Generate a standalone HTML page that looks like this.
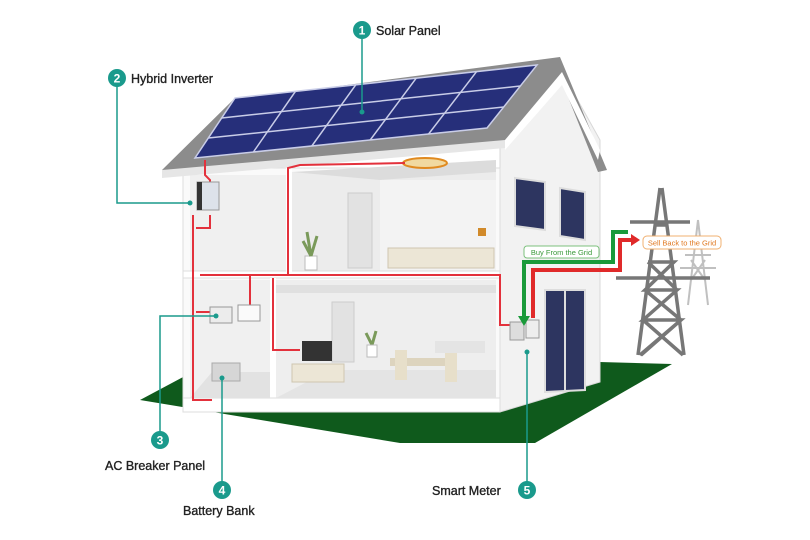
<!DOCTYPE html>
<html><head><meta charset="utf-8"><style>
html,body{margin:0;padding:0;background:#fff}
svg{display:block}
text{font-family:"Liberation Sans",sans-serif}
</style></head><body>
<svg width="810" height="540" viewBox="0 0 810 540" xmlns="http://www.w3.org/2000/svg">
<rect width="810" height="540" fill="#fff"/>
<polygon points="140,400 230,352 672,364 535,443 400,443" fill="#0f5a1c"/>
<polygon points="500,145 562,72 600,140 600,382 500,412" fill="#f2f2f2" stroke="#d8d8d8"/>
<rect x="183" y="168" width="317" height="244" fill="#fafafa" stroke="#ddd"/>
<rect x="190" y="175" width="96" height="96" fill="#f0f0f0"/>
<rect x="292" y="172" width="204" height="100" fill="#ececec"/>
<polygon points="292,172 496,160 496,172 380,180" fill="#dcdcdc"/>
<rect x="380" y="180" width="116" height="92" fill="#f3f3f3"/>
<rect x="190" y="280" width="80" height="118" fill="#f0f0f0"/>
<rect x="276" y="280" width="220" height="118" fill="#eeeeee"/>
<rect x="276" y="285" width="220" height="8" fill="#e0e0e0"/>
<rect x="183" y="271" width="317" height="7" fill="#fff" stroke="#ddd"/>
<rect x="286" y="168" width="6" height="104" fill="#fff"/>
<rect x="270" y="278" width="6" height="134" fill="#fff"/>
<rect x="183" y="398" width="317" height="14" fill="#fff" stroke="#ddd"/>
<polygon points="190,398 270,398 270,372 212,372" fill="#e2e2e2"/>
<polygon points="276,398 496,398 496,370 330,370" fill="#e4e4e4"/>
<rect x="348" y="193" width="24" height="75" fill="#e2e2e2" stroke="#ccc"/>
<rect x="332" y="302" width="22" height="60" fill="#e2e2e2" stroke="#ccc"/>
<rect x="388" y="248" width="106" height="20" fill="#ece6d6" stroke="#cfc6b0"/>
<rect x="478" y="228" width="8" height="8" fill="#d18a2a"/>
<rect x="305" y="256" width="12" height="14" fill="#fff" stroke="#bbb"/>
<path d="M311,256 l-8,-15 M311,256 l6,-20 M311,256 l-4,-24" stroke="#7a9a5a" stroke-width="3"/>
<rect x="302" y="341" width="30" height="20" fill="#333"/>
<rect x="292" y="364" width="52" height="18" fill="#ece6d6" stroke="#cfc6b0"/>
<rect x="390" y="358" width="62" height="8" fill="#ddd4be"/>
<rect x="395" y="350" width="12" height="30" fill="#e7dfca"/>
<rect x="445" y="352" width="12" height="30" fill="#e7dfca"/>
<rect x="435" y="341" width="50" height="12" fill="#e4e4e4"/>
<path d="M372,345 l-6,-12 M372,345 l4,-14" stroke="#7a9a5a" stroke-width="3"/>
<rect x="367" y="345" width="10" height="12" fill="#fff" stroke="#bbb"/>
<ellipse cx="425" cy="163" rx="22" ry="5" fill="#f1d9a0" stroke="#e08a20" stroke-width="2"/>
<polygon points="515,178 545,182 545,230 515,226" fill="#2d3560" stroke="#ddd" stroke-width="2"/>
<polygon points="560,188 585,192 585,240 560,236" fill="#2d3560" stroke="#ddd" stroke-width="2"/>
<polygon points="545,290 585,290 585,390 545,392" fill="#2d3560" stroke="#ddd" stroke-width="2"/>
<line x1="565" y1="290" x2="565" y2="391" stroke="#ddd" stroke-width="2"/>
<polygon points="162,170 233,100 560,57 607,170 598,172 562,82 505,145 162,172" fill="#8c8c8c"/>
<polygon points="162,170 505,140 505,148 162,178" fill="#e6e6e6"/>
<polygon points="505,140 562,72 600,150 598,160 562,85 505,150" fill="#fff"/>
<polygon points="235,98 537,65 487,128 195,158" fill="#262f7a"/>
<g stroke="#c9cde8" stroke-width="1.5" fill="none">
<polygon points="235,98 537,65 487,128 195,158"/>
<line x1="295.4" y1="91.4" x2="253.4" y2="152"/>
<line x1="355.8" y1="84.8" x2="311.8" y2="146"/>
<line x1="416.2" y1="78.2" x2="370.2" y2="140"/>
<line x1="476.6" y1="71.6" x2="428.6" y2="134"/>
<line x1="221.7" y1="118" x2="520.3" y2="86"/>
<line x1="208.3" y1="138" x2="503.7" y2="107"/>
</g>
<g stroke="#e3313c" stroke-width="2" fill="none">
<path d="M205,160 L205,175 L210,180 L210,195"/>
<path d="M193,215 L193,400 L212,400"/>
<path d="M210,215 L210,228 L196,228"/>
<path d="M196,312 L212,312"/>
<path d="M245,275 L250,275 L250,305"/>
<path d="M200,275 L500,275 L500,325 L510,325"/>
<path d="M288,275 L288,168 L300,165 L405,163"/>
<path d="M273,278 L273,350 L300,350"/>
</g>
<rect x="197" y="182" width="22" height="28" fill="#dde2ea" stroke="#999"/>
<rect x="197" y="182" width="5" height="28" fill="#333"/>
<rect x="210" y="307" width="22" height="16" fill="#ececec" stroke="#999"/>
<rect x="238" y="305" width="22" height="16" fill="#fafafa" stroke="#999"/>
<rect x="212" y="363" width="28" height="18" fill="#d6d6d6" stroke="#aaa"/>
<rect x="510" y="322" width="14" height="18" fill="#ddd" stroke="#999"/>
<rect x="526" y="320" width="13" height="18" fill="#eee" stroke="#999"/>
<path d="M628,232 L613,232 L613,262 L524,262 L524,318" stroke="#1a9a3a" stroke-width="4" fill="none"/>
<polygon points="518,316 530,316 524,326" fill="#1a9a3a"/>
<path d="M533,318 L533,270 L620,270 L620,240 L631,240" stroke="#e02a2a" stroke-width="4" fill="none"/>
<polygon points="631,234 640,240 631,246" fill="#e02a2a"/>
<rect x="524" y="246" width="75" height="12" rx="3" fill="#fff" stroke="#7cc07c"/>
<text x="561.5" y="255" font-size="7.5" fill="#3a9a3a" text-anchor="middle">Buy From the Grid</text>
<g stroke="#c0c0c0" stroke-width="2" fill="none">
<path d="M698,220 L688,305 M698,220 L708,305 M691,280 L705,260 M705,280 L691,260"/>
<path d="M680,268 L716,268 M685,255 L711,255"/>
</g>
<g stroke="#777" stroke-width="3.5" fill="none">
<path d="M660,188 L638,355 M662,188 L684,355 M655,225 L667,225 M648,262 L674,262 L645,290 L677,290 L643,320 L681,320 L641,355 M648,262 L677,290 M674,262 L645,290 M643,320 L677,290 M681,320 L645,290 M643,320 L683,355 M681,320 L640,355"/>
<path d="M630,222 L690,222"/>
<path d="M616,278 L710,278"/>
</g>
<rect x="643" y="236" width="78" height="13" rx="4" fill="#fff" stroke="#f0b070"/>
<text x="682" y="245.5" font-size="7.5" fill="#e07820" text-anchor="middle">Sell Back to the Grid</text>
<g stroke="#1a9a8c" stroke-width="1.5" fill="none">
<path d="M362,38 L362,112"/>
<path d="M117,86 L117,203 L190,203"/>
<path d="M160,432 L160,316 L216,316"/>
<path d="M222,482 L222,378"/>
<path d="M527,482 L527,352"/>
</g>
<g fill="#1a9a8c">
<circle cx="362" cy="112" r="2.5"/><circle cx="190" cy="203" r="2.5"/><circle cx="216" cy="316" r="2.5"/><circle cx="222" cy="378" r="2.5"/><circle cx="527" cy="352" r="2.5"/>
<circle cx="362" cy="30" r="9"/><circle cx="117" cy="78" r="9"/><circle cx="160" cy="440" r="9"/><circle cx="222" cy="490" r="9"/><circle cx="527" cy="490" r="9"/>
</g>
<g fill="#fff" font-size="12" font-weight="bold" text-anchor="middle">
<text x="362" y="34.5">1</text><text x="117" y="82.5">2</text><text x="160" y="444.5">3</text><text x="222" y="494.5">4</text><text x="527" y="494.5">5</text>
</g>
<g fill="#222" font-size="12.5" stroke="#222" stroke-width="0.35">
<text x="376" y="35">Solar Panel</text>
<text x="131" y="83">Hybrid Inverter</text>
<text x="105" y="470">AC Breaker Panel</text>
<text x="183" y="515">Battery Bank</text>
<text x="432" y="495">Smart Meter</text>
</g>
</svg>
</body></html>
